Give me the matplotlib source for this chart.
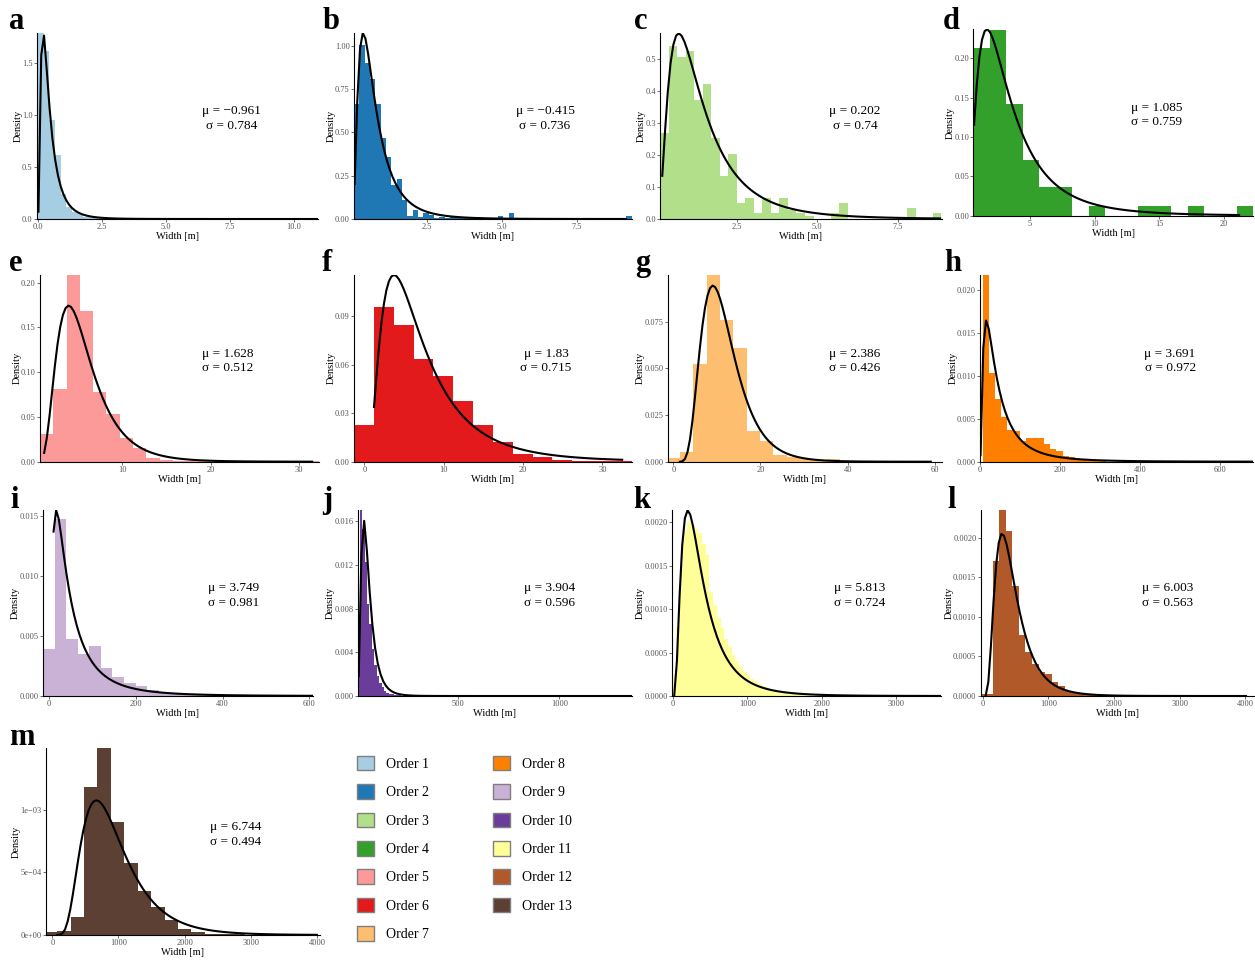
import numpy as np
import matplotlib
matplotlib.use('Agg')
from matplotlib import pyplot as plt
from matplotlib.patches import Patch
from matplotlib.ticker import FormatStrFormatter, FixedFormatter

plt.rcParams['font.family'] = ['Liberation Serif', 'DejaVu Serif']
plt.rcParams['axes.unicode_minus'] = True

W, H = 1255, 961

letters = list('abcdefghijklm')
orders = ['Order %d' % i for i in range(1, 14)]
colors = ['#A6CEE3', '#1F78B4', '#B2DF8A', '#33A02C', '#FB9A99', '#E31A1C', '#FDBF6F',
          '#FF7F00', '#CAB2D6', '#6A3D9A', '#FFFF99', '#B15928', '#5C4033']

# fitted lognormal parameters shown in each panel
mu = [-0.961, -0.415, 0.202, 1.085, 1.628, 1.83, 2.386, 3.691, 3.749, 3.904, 5.813, 6.003, 6.744]
sigma = [0.784, 0.736, 0.74, 0.759, 0.512, 0.715, 0.426, 0.972, 0.981, 0.596, 0.724, 0.563, 0.494]

# observed width range (fitted curve drawn over it)
w_min = [0.028, 0.1, 0.2, 0.67, 1.15, 1.22, 1.5, 1.4, 10, 10, 17, 45, 75]
w_max = [10.95, 9.14, 8.8, 21.2, 31.5, 32.5, 59.1, 683, 609, 1357, 3594, 4010, 4000]

# histogram bins: left edge of first bin and bin width
bin_start = [0.02, 0.08, 0.13, 0.61, 0.68, -1.3, -1.5, 6.7, -13.8, 3, -10, -50, -130]
bin_width = [0.22, 0.178, 0.264, 1.277, 1.505, 2.5, 3.058, 15.4, 26.6, 12, 50, 100, 203]

# histogram densities
h_a = [1.79, 1.62, 0.95, 0.62, 0.24, 0.12, 0.07, 0.045, 0.02, 0.015, 0.01, 0.005,
       0, 0, 0, 0, 0, 0, 0.008, 0, 0.008, 0.008, 0, 0, 0, 0, 0, 0.008,
       0, 0, 0, 0, 0, 0.008] + [0] * 15 + [0.008]
h_b = [0.665, 1.006, 0.90, 0.81, 0.665, 0.466, 0.36, 0.197, 0.23, 0.11, 0.017, 0.052, 0.013,
       0.037, 0.023, 0.006, 0.012, 0.006, 0.012, 0.012, 0.012, 0.012, 0.012, 0.012,
       0, 0, 0, 0.017, 0, 0.037] + [0] * 21 + [0.017]
h_c = [0.269, 0.539, 0.505, 0.523, 0.372, 0.421, 0.253, 0.135, 0.202, 0.051, 0.066, 0.018,
       0.066, 0.018, 0.066, 0.028, 0.018, 0.01, 0, 0, 0.018, 0.051,
       0, 0, 0, 0, 0, 0, 0, 0.033, 0, 0, 0.018]
h_d = [0.213, 0.236, 0.142, 0.0708, 0.036, 0.036, 0, 0.0123, 0, 0, 0.0123, 0.0123, 0,
       0.0123, 0, 0, 0.0123]
h_e = [0.0305, 0.081, 0.2086, 0.168, 0.078, 0.053, 0.027, 0.015, 0.004, 0.002, 0.001,
       0.001, 0.0005, 0.0005, 0, 0, 0, 0, 0, 0, 0.0005]
h_f = [0.0228, 0.0956, 0.0848, 0.0637, 0.0532, 0.0377, 0.0228, 0.012, 0.0048, 0.0031,
       0.001, 0.0005, 0.0003, 0.0003]
h_g = [0.0021, 0.005, 0.0523, 0.1, 0.0759, 0.0607, 0.0164, 0.011, 0.0036, 0.0027, 0.0015,
       0.001, 0.0013, 0.0006, 0.0006, 0.0003, 0.0003, 0.0002, 0.0002, 0.0001, 0.0001]
h_h = [0.0217, 0.0103, 0.0073, 0.0052, 0.0037, 0.0036, 0.0024, 0.0028, 0.0028, 0.0027,
       0.0020, 0.0015, 0.0012, 0.0007, 0.0006, 0.0003, 0.0002, 0.0001, 0.0001, 0.0001] + [0] * 23 + [0.00005]
h_i = [0.00395, 0.01475, 0.00473, 0.00353, 0.00415, 0.00237, 0.00156, 0.00109, 0.00083,
       0.00047, 0.00028, 0.00015, 0.0001, 0.00008, 0.00005, 0.00004, 0.00003, 0.00002,
       0.00002, 0.00001, 0.00001, 0, 0, 0.00001]
h_j = [0.0057, 0.0170, 0.0153, 0.0123, 0.0084, 0.0066, 0.0043, 0.0028, 0.0018, 0.0012,
       0.0008, 0.0005, 0.0003, 0.0002, 0.00015, 0.0001, 0.00008, 0.00005, 0.00003, 0.00002]
h_k = [0.00024, 0.0008, 0.0015, 0.0019, 0.0020, 0.00197, 0.00192, 0.00188, 0.00175, 0.00163,
       0.00120, 0.00105, 0.00090, 0.00078, 0.00066, 0.00056, 0.00047, 0.00040, 0.00033,
       0.00028, 0.00024, 0.00020, 0.00017, 0.00014, 0.00012, 0.00010, 0.00008, 0.00007,
       0.00006, 0.00005, 0.00004, 0.000035, 0.00003, 0.000025, 0.00002, 0.000018, 0.000015,
       0.000012, 0.00001, 0.00001, 0.000008, 0.000006]
h_l = [0.00003, 0.00003, 0.00171, 0.002346, 0.00208, 0.00139, 0.00077, 0.00056, 0.00040,
       0.00030, 0.00028, 0.00018, 0.00013, 0.00006, 0.00004, 0.00003, 0.00003, 0.00002,
       0.00001, 0.00001, 0.00001, 0, 0.00001, 0, 0, 0.00001]
h_m = [0.00002, 0.000035, 0.000146, 0.00118, 0.00149, 0.000904, 0.000572, 0.000354, 0.00022,
       0.00012, 0.000048, 0.00002, 0.00001, 0.000008, 0.000005, 0.000003, 0.000002, 0.000002,
       0.000001, 0.000001, 0.000001]
heights = [h_a, h_b, h_c, h_d, h_e, h_f, h_g, h_h, h_i, h_j, h_k, h_l, h_m]

# x limits and ticks
xlims = [(-0.04, 10.95), (0.08, 9.34), (0.13, 8.85), (0.61, 22.3), (0.68, 32.3), (-1.3, 33.7),
         (-1.3, 61.6), (0, 683), (-15, 609), (5, 1357), (-16, 3600), (-33, 4124), (-98, 4040)]
xticks = [[0, 2.5, 5, 7.5, 10], [2.5, 5, 7.5], [2.5, 5, 7.5], [5, 10, 15, 20], [10, 20, 30],
          [0, 10, 20, 30], [0, 20, 40, 60], [0, 200, 400, 600], [0, 200, 400, 600],
          [500, 1000], [0, 1000, 2000, 3000], [0, 1000, 2000, 3000, 4000],
          [0, 1000, 2000, 3000, 4000]]
yticks = [[0, 0.5, 1.0, 1.5], [0, 0.25, 0.5, 0.75, 1.0], [0, 0.1, 0.2, 0.3, 0.4, 0.5],
          [0, 0.05, 0.10, 0.15, 0.20], [0, 0.05, 0.10, 0.15, 0.20], [0, 0.03, 0.06, 0.09],
          [0, 0.025, 0.05, 0.075], [0, 0.005, 0.01, 0.015, 0.02], [0, 0.005, 0.01, 0.015],
          [0, 0.004, 0.008, 0.012, 0.016], [0, 0.0005, 0.001, 0.0015, 0.002],
          [0, 0.0005, 0.001, 0.0015, 0.002], [0, 0.0005, 0.001]]
yfmt = ['%.1f', '%.2f', '%.1f', '%.2f', '%.2f', '%.2f', '%.3f', '%.3f', '%.3f', '%.3f',
        '%.4f', '%.4f', None]
m_ylabels = ['0e+00', '5e\u221204', '1e\u221203']

# axes boxes in pixels: left, right, top, bottom
boxes = [(36.7, 318, 33, 219), (354, 631.7, 33, 219), (660, 941.7, 33.3, 219),
         (973.3, 1253.3, 29.3, 215.7),
         (40, 319.3, 275, 461.7), (354, 631.7, 275, 461.7), (667.7, 941.7, 275, 461.7),
         (980, 1252.7, 275, 461.7),
         (42.7, 313.3, 510.3, 696), (357.7, 631.7, 510.3, 696), (671.8, 940.8, 510.3, 696),
         (980.6, 1253.5, 510.3, 696),
         (45.9, 319.5, 748.3, 935)]
letter_pos = [(9, 29), (323, 29), (634, 29), (943, 29), (9, 271), (322, 271), (635, 271),
              (944, 271), (10, 508), (322, 508), (633, 508), (947, 508), (9, 745)]
note_x = [0.694, 0.688, 0.692, 0.656, 0.673, 0.691, 0.684, 0.697, 0.707, 0.70, 0.70, 0.686, 0.695]


def lnorm_pdf(x, m, s):
    return np.exp(-(np.log(x) - m) ** 2 / (2 * s * s)) / (x * s * np.sqrt(2 * np.pi))


fig = plt.figure(figsize=(W / 100, H / 100), dpi=100)

for k in range(13):
    l, r, t, b = boxes[k]
    ax = fig.add_axes([l / W, 1 - b / H, (r - l) / W, (b - t) / H])

    hk = np.array(heights[k])
    edges = bin_start[k] + bin_width[k] * np.arange(len(hk))
    ax.bar(edges, hk, width=bin_width[k], align='edge', color=colors[k], linewidth=0)

    xs = np.linspace(w_min[k], w_max[k], 101)
    ys = lnorm_pdf(xs, mu[k], sigma[k])
    ax.plot(xs, ys, color='black', lw=1.5, solid_joinstyle='round')

    ax.set_xlim(*xlims[k])
    ax.set_ylim(0, max(hk.max(), ys.max()))

    ax.set_xticks(xticks[k])
    if k < 3:
        ax.xaxis.set_major_formatter(FormatStrFormatter('%.1f'))
    else:
        ax.xaxis.set_major_formatter(FormatStrFormatter('%d'))
    ax.set_yticks(yticks[k])
    if yfmt[k]:
        ax.yaxis.set_major_formatter(FormatStrFormatter(yfmt[k]))
    else:
        ax.yaxis.set_major_formatter(FixedFormatter(m_ylabels))

    ax.tick_params(labelsize=6, labelcolor='#555555', length=2, width=0.5,
                   color='#333333', pad=1)
    for side in ['top', 'right']:
        ax.spines[side].set_visible(False)
    for side in ['left', 'bottom']:
        ax.spines[side].set_linewidth(0.8)
        ax.spines[side].set_color('black')

    ax.set_xlabel('Width [m]', fontsize=7.5, labelpad=0.5)
    ax.set_ylabel('Density', fontsize=7.5, labelpad=-0.5)

    m_txt = ('%g' % mu[k]).replace('-', '\u2212')
    ax.text(note_x[k], 0.54, '\u03bc = %s\n\u03c3 = %g' % (m_txt, sigma[k]),
            transform=ax.transAxes, ha='center', va='center', multialignment='center',
            fontsize=9.5, linespacing=1.3)

    lx, ly = letter_pos[k]
    fig.text(lx / W, 1 - ly / H, letters[k], fontsize=22, fontweight='bold', va='baseline')

handles = [Patch(facecolor=c, edgecolor='#7F7F7F', linewidth=1) for c in colors]
fig.legend(handles, orders, loc='upper left', bbox_to_anchor=(357 / W, 1 - 756 / H),
           ncol=2, frameon=False, fontsize=10, borderpad=0, borderaxespad=0,
           handlelength=1.22, handleheight=1.22, handletextpad=0.86,
           labelspacing=0.97, columnspacing=4.6)

fig.savefig('out.png', dpi=100)
